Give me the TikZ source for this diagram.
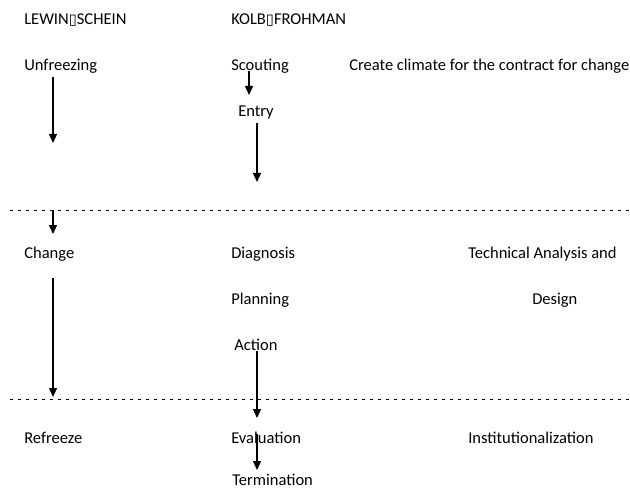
\documentclass[tikz,border=0pt]{standalone}
\usepackage{fontspec}
\setmainfont{Carlito}
\newfontfamily\boxglyph{DejaVu Sans}
\usetikzlibrary{arrows.meta}

\begin{document}
\begin{tikzpicture}[
    x=0.75pt, y=-0.75pt,
    plaintext/.style={anchor=base west, inner sep=0pt, font=\fontsize{12.4}{14}\selectfont},
    flow/.style={-{Triangle[length=6.75pt, width=6pt]}, line width=1pt},
    divider/.style={line width=0.75pt, dash pattern=on 2.5pt off 3.5pt},
    ]
    \useasboundingbox (0,0) rectangle (630,488);

    %Nodes
    \node[plaintext] (lewin)     at (24,25)   {LEWIN{\boxglyph\fontsize{11}{11}\selectfont ▯}SCHEIN};
    \node[plaintext] (kolb)      at (231,25)  {KOLB{\boxglyph\fontsize{11}{11}\selectfont ▯}FROHMAN};
    \node[plaintext] (unfreeze)  at (24,71)   {Unfreezing};
    \node[plaintext] (scout)     at (231,71)  {Scouting};
    \node[plaintext] (climate)   at (349,71)  {Create climate for the contract for change};
    \node[plaintext] (entry)     at (238,117) {Entry};
    \node[plaintext] (change)    at (24,258)  {Change};
    \node[plaintext] (diagnose)  at (231,258) {Diagnosis};
    \node[plaintext] (technical) at (468,258) {Technical Analysis and};
    \node[plaintext] (plan)      at (231,304) {Planning};
    \node[plaintext] (design)    at (532,304) {Design};
    \node[plaintext] (action)    at (234,350) {Action};
    \node[plaintext] (refreeze)  at (24,443)  {Refreeze};
    \node[plaintext] (evaluate)  at (231,443) {Evaluation};
    \node[plaintext] (institute) at (468,443) {Institutionalization};
    \node[plaintext] (terminate) at (232,485) {Termination};

    %Free ends
    \coordinate (rule1w) at (10,210);
    \coordinate (rule1e) at (630,210);
    \coordinate (rule2w) at (10,399);
    \coordinate (rule2e) at (630,399);
    \coordinate (unfreezeend) at (53,143);
    \coordinate (changetop)   at (53,210);
    \coordinate (changein)    at (53,234);
    \coordinate (changeend)   at (53,397);
    \coordinate (scoutend)    at (249,95);
    \coordinate (entryend)    at (257,182);
    \coordinate (actionend)   at (257,418);
    \coordinate (evalend)     at (257,470);

    %Lines
    \draw[divider] (rule1w) -- (rule1e);
    \draw[divider] (rule2w) -- (rule2e);
    \draw[flow] (unfreeze.south -| unfreezeend) ++(0,3) -- (unfreezeend);
    \draw[flow] (changetop) -- (changein);
    \draw[flow] (change.south -| changeend) ++(0,17) -- (changeend);
    \draw[flow] (scout.base -| scoutend) -- (scoutend);
    \draw[flow] (entry.south -| entryend) ++(0,3) -- (entryend);
    \draw[flow] (action.south -| actionend) ++(0,1) -- (actionend);
    \draw[flow] (evaluate.north -| evalend) ++(0,3) -- (evalend);
\end{tikzpicture}
\end{document}
